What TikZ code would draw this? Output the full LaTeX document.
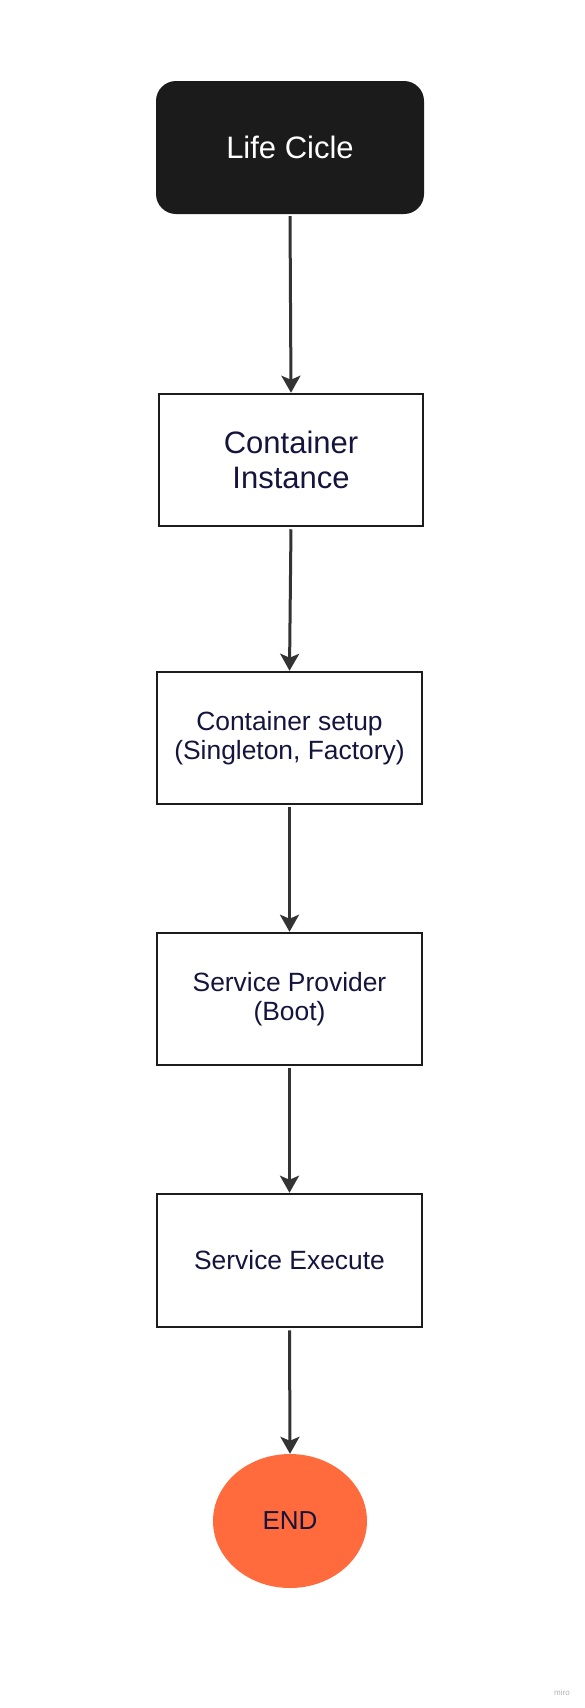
\documentclass[tikz,border=0pt]{standalone}
\usepackage{fontspec}
\setmainfont{Liberation Sans}
\usetikzlibrary{arrows.meta,shapes.geometric}
\definecolor{ink}{HTML}{14143C}
\definecolor{boxline}{HTML}{1C1C1C}
\definecolor{arrowc}{HTML}{333333}
\definecolor{darkfill}{HTML}{1B1B1B}
\definecolor{endfill}{HTML}{FF6B3D}
\tikzset{
  stepbox/.style={draw=boxline, line width=2.5pt, fill=white, rectangle, inner sep=0pt,
    minimum width=265pt, minimum height=132pt, align=center, text=ink,
    font=\fontsize{26.4}{29}\selectfont},
  bigtext/.style={font=\fontsize{31}{35}\selectfont},
  startbox/.style={rectangle, rounded corners=20pt, fill=darkfill, inner sep=0pt,
    minimum width=268pt, minimum height=133pt, text=white, align=center},
  endnode/.style={ellipse, fill=endfill, inner sep=0pt, minimum width=154pt,
    minimum height=134pt, text=ink, font=\fontsize{26}{29}\selectfont},
  flow/.style={draw=arrowc, line width=3pt, shorten <=2pt,
    -{Stealth[length=17pt, width=19pt, inset=4pt]}},
}
\begin{document}
\begin{tikzpicture}[x=1pt,y=-1pt]
\useasboundingbox[fill=white] (0,0) rectangle (585,1708);
\node[startbox, bigtext] (life) at (290,147.5) {Life Cicle};
\node[stepbox, bigtext, minimum width=264pt] (inst) at (291,460) {Container\\Instance};
\node[stepbox] (setup) at (289.5,738) {Container setup\\(Singleton, Factory)};
\node[stepbox] (prov) at (289.5,999) {Service Provider\\(Boot)};
\node[stepbox, minimum height=133pt] (exec) at (289.5,1260.5) {Service Execute};
\node[endnode] (end) at (290,1521) {END};
\draw[flow] (life.south) -- (inst.north);
\draw[flow] (inst.south) -- (setup.north);
\draw[flow] (setup.south) -- (prov.north);
\draw[flow] (prov.south) -- (exec.north);
\draw[flow] (exec.south) -- (end.north);
\node[text=black!30, font=\fontsize{8}{9}\selectfont] (miro) at (562,1693) {miro};
\end{tikzpicture}
\end{document}
